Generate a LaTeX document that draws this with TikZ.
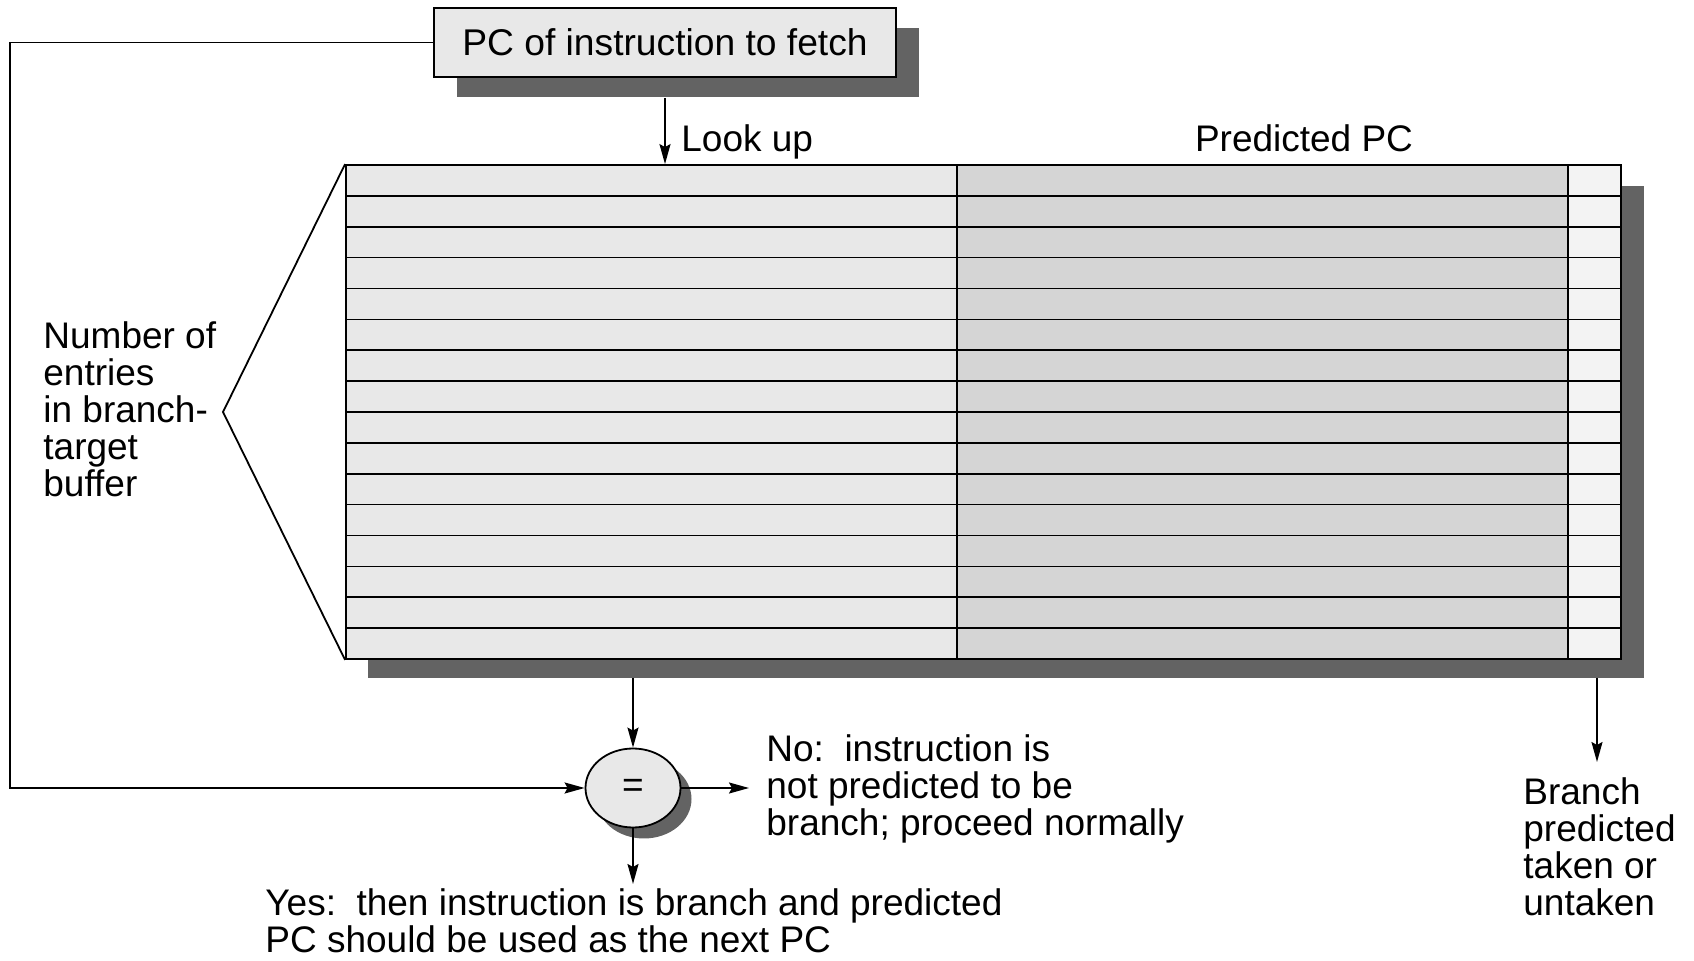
\documentclass[tikz,border=0pt]{standalone}
\usepackage{fontspec}
\setmainfont{Liberation Sans}
\usetikzlibrary{arrows.meta,shapes.geometric,calc}
\definecolor{shadowgray}{HTML}{636363}
\definecolor{colA}{HTML}{E8E8E8}
\definecolor{colB}{HTML}{D5D5D5}
\definecolor{colC}{HTML}{F3F3F3}
\begin{document}
\begin{tikzpicture}[x=0.5pt,y=-0.5pt,
  lbl/.style={font=\fontsize{18.5}{18.5}\selectfont, inner sep=0pt, align=left},
  arr/.style={line width=0.9pt, -{Stealth[length=10pt,width=5.5pt,inset=1.5pt]}},
  conn/.style={line width=0.9pt},
  rowline/.style={line width=0.8pt}]
\useasboundingbox[fill=white] (0,0) rectangle (1694,961);

% ---- PC box ----
\fill[shadowgray] (457,28) rectangle (919,97);
\node[draw, line width=0.9pt, fill=colA, minimum width=231pt, minimum height=34.5pt,
      inner sep=0pt, font=\fontsize{18.6}{18.5}\selectfont] (pc) at (665,42.5) {PC of instruction to fetch};

% ---- branch-target buffer ----
\fill[shadowgray] (368,186) rectangle (1644,678);
\fill[colA] (346,165) rectangle (957,659);
\fill[colB] (957,165) rectangle (1568,659);
\fill[colC] (1568,165) rectangle (1621,659);
\foreach \i in {1,...,15}{
  \draw[rowline] (346,{165+30.875*\i}) -- (1621,{165+30.875*\i});
}
\draw[conn] (957,165) -- (957,659);
\draw[conn] (1568,165) -- (1568,659);
\node[draw, line width=0.9pt, minimum width=637.5pt, minimum height=247pt, inner sep=0pt] (btb) at (983.5,412) {};

% wedge
\coordinate (wedge) at (223,412);
\draw[conn] (btb.north west) -- (wedge) -- (btb.south west);

% ---- comparator ----
\fill[shadowgray] (644,799) ellipse [x radius=47.5, y radius=39.5];
\node[ellipse, draw, line width=0.9pt, fill=colA, minimum width=47.5pt, minimum height=39.5pt,
      inner sep=0pt, font=\fontsize{18.5}{18.5}\selectfont] (eq) at (633,788) {=};

% ---- labels (base anchor = baseline of the last line) ----
\node[lbl, anchor=base west] (lookup) at (681,152) {Look up};
\node[lbl, anchor=base] (predpc) at (1304,152) {Predicted PC};
\node[lbl, anchor=base west] (num) at (43,497) {Number of\\entries\\in branch-\\target\\buffer};
\node[lbl, anchor=base west] (no) at (766,836) {No:\ \ instruction is\\not predicted to be\\branch; proceed normally};
\node[lbl, anchor=base west] (yes) at (265,953) {Yes:\ \ then instruction is branch and predicted\\PC should be used as the next PC};
\node[lbl, anchor=base west] (br) at (1523,916) {Branch\\predicted\\taken or\\untaken};

% ---- connectors ----
\draw[arr] ($(pc.south)+(0,20)$) -- (pc.south |- btb.north);
\draw[arr] (pc.west) -- ++(-423,0) |- (eq.west);
\coordinate (tblout) at (633,678);
\draw[arr] (tblout) -- (eq.north);
\draw[arr, shorten >=8.5pt] (eq.east) -- (eq.east -| no.west);
\coordinate (yesin) at (633,884);
\draw[arr] (eq.south) -- (yesin);
\coordinate (bout) at (1597,678);
\coordinate (bin) at (1597,762);
\draw[arr] (bout) -- (bin);
\end{tikzpicture}
\end{document}
